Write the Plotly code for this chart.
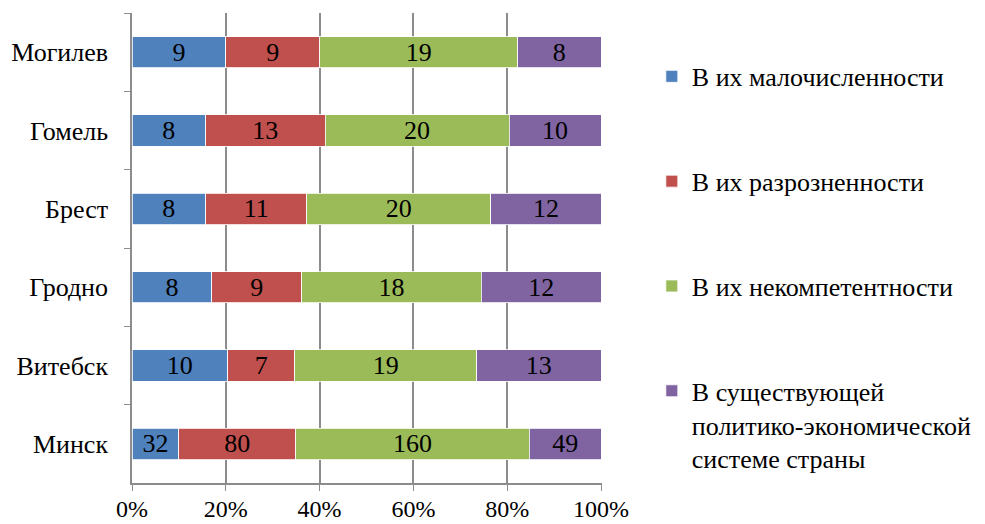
import plotly.graph_objects as go

categories = ["Могилев", "Гомель", "Брест", "Гродно", "Витебск", "Минск"]
series_names = [
    "В их малочисленности",
    "В их разрозненности",
    "В их некомпетентности",
    "В существующей<br>политико-экономической<br>системе страны",
]
small_numbers = [9, 8, 8, 8, 10, 32]
disunity = [9, 13, 11, 9, 7, 80]
incompetence = [19, 20, 20, 18, 19, 160]
system = [8, 10, 12, 12, 13, 49]
x_ticks = [0, 20, 40, 60, 80, 100]
x_tick_labels = ["0%", "20%", "40%", "60%", "80%", "100%"]

series_values = [small_numbers, disunity, incompetence, system]
colors = ["#4F81BD", "#C0504D", "#9BBB59", "#8064A2"]

FONT = "Liberation Serif"
OFF = 8  # page body margin offset

fig = go.Figure()
for i, (name, vals, col) in enumerate(zip(series_names, series_values, colors)):
    fig.add_trace(go.Bar(
        y=categories, x=vals, name=name, orientation="h",
        marker=dict(color=col, line=dict(color="white", width=0.8)),
        text=[str(v) for v in vals], textposition="inside",
        insidetextanchor="middle", textangle=0,
        textfont=dict(family=FONT, size=26, color="black"),
        legendgroup=f"g{i}",
    ))

fig.update_layout(
    barmode="stack", barnorm="percent", bargap=0.6,
    width=985 - OFF, height=524 - OFF,
    margin=dict(l=132 - OFF, r=383, t=13 - OFF, b=41, autoexpand=False),
    plot_bgcolor="white", paper_bgcolor="white",
    font=dict(family=FONT, size=24, color="black"),
    uniformtext=dict(minsize=26, mode="show"),
    legend=dict(
        x=1.106, xanchor="left", y=0.915, yanchor="top",
        tracegroupgap=68, valign="top",
        font=dict(family=FONT, size=26, color="black"),
        traceorder="grouped",
    ),
    xaxis=dict(
        range=[0, 100.2], tickvals=x_ticks, ticktext=x_tick_labels,
        showgrid=True, gridcolor="#8C8C8C", gridwidth=1.5,
        showline=True, linecolor="#8C8C8C", linewidth=1.5,
        ticks="outside", ticklen=6, tickcolor="#8C8C8C",
        ticklabelstandoff=-3, zeroline=False, automargin=False,
        tickfont=dict(family=FONT, size=24, color="black"),
    ),
    yaxis=dict(
        autorange="reversed", showgrid=False,
        showline=True, linecolor="#8C8C8C", linewidth=1.5,
        ticks="outside", ticklen=6, tickcolor="#8C8C8C",
        tickson="boundaries", ticklabelstandoff=17, automargin=False,
        tickfont=dict(family=FONT, size=26, color="black"),
    ),
)

fig.write_html("out.html")
